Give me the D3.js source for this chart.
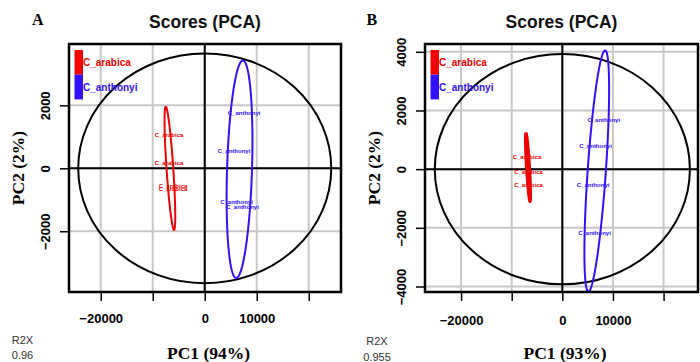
<!DOCTYPE html>
<html>
<head>
<meta charset="utf-8">
<script src="https://cdn.jsdelivr.net/npm/d3@7"></script>
<style>
  body { margin: 0; background: #fff; }
  svg { display: block; }
</style>
</head>
<body>
<div id="main"></div>
<script>
// --- data ---
var groups = ["C_arabica", "C_anthonyi"];
var groupColors = ["#f00000", "#3311ff"];

// score labels (PC1, PC2) per panel and group
var scoresA_arabica  = [[-6870, 1057], [-6870, 168], [-6100, -562], [-6100, -657]];
var scoresA_anthonyi = [[7560, 1746], [5630, 549], [6115, -1060], [7270, -1219]];
var scoresB_arabica  = [[-6980, 430], [-6680, -92], [-6680, -546]];
var scoresB_anthonyi = [[8180, 1683], [6560, 795], [6070, -536], [6360, -2184]];

// group ellipses: center, major semi-axis vector, horizontal half width
var ellA_arabica  = {cx: -6700, cy: 0,   ax: -800, ay: 1960, bx: 650};
var ellA_anthonyi = {cx: 6690,  cy: -30, ax: 645,  ay: 3457, bx: 2400};
var ellB_arabica  = {cx: -6780, cy: 60,  ax: -395, ay: 1167, bx: 300};
var ellB_anthonyi = {cx: 6800,  cy: -65, ax: 1650, ay: 4113, bx: 1800};

// Hotelling T2 ellipse radii
var hotA = {rx: 24330, ry: 3650};
var hotB = {rx: 25200, ry: 3925};

var xTicks = [-20000, -10000, 0, 10000, 20000];
var xTickLabels = [-20000, 0, 10000];
var yTicksA = [-2000, 0, 2000];
var yTicksB = [-4000, -2000, 0, 2000, 4000];

var pc1A = "PC1 (94%)", pc1B = "PC1 (93%)";
var pc2Label = "PC2 (2%)";
var r2xA = "0.96", r2xB = "0.955";

var W = 700, H = 362;
var sans = "'Liberation Sans', Arial, sans-serif";
var serif = "'Liberation Serif', 'Times New Roman', serif";

var svg = d3.select("#main").append("svg")
    .attr("width", W)
    .attr("height", H);

function ellipsePoints(e) {
    // parametric ellipse in data space
    return d3.range(0, 361, 3).map(function(deg) {
        var t = deg / 180 * Math.PI;
        return [e.cx + e.ax * Math.cos(t) + e.bx * Math.sin(t),
                e.cy + e.ay * Math.cos(t)];
    });
}

function panel(cfg) {
    var x = d3.scaleLinear().domain(cfg.xDomain).range([cfg.x0, cfg.x1]);
    var y = d3.scaleLinear().domain(cfg.yDomain).range([cfg.y1, cfg.y0]);
    var g = svg.append("g");

    var clipId = "clip" + cfg.id;
    svg.append("clipPath").attr("id", clipId)
        .append("rect")
        .attr("x", cfg.x0).attr("y", cfg.y0)
        .attr("width", cfg.x1 - cfg.x0).attr("height", cfg.y1 - cfg.y0);

    var plot = g.append("g").attr("clip-path", "url(#" + clipId + ")");

    // grid
    plot.selectAll(".vgrid").data(xTicks).enter().append("line")
        .attr("x1", function(d) { return x(d); }).attr("x2", function(d) { return x(d); })
        .attr("y1", cfg.y0).attr("y2", cfg.y1)
        .attr("stroke", "#c8c8c8").attr("stroke-width", 2);
    plot.selectAll(".hgrid").data(yTicksB).enter().append("line")
        .attr("y1", function(d) { return y(d); }).attr("y2", function(d) { return y(d); })
        .attr("x1", cfg.x0).attr("x2", cfg.x1)
        .attr("stroke", "#c8c8c8").attr("stroke-width", 2);

    // zero lines
    plot.append("line")
        .attr("x1", x(0)).attr("x2", x(0)).attr("y1", cfg.y0).attr("y2", cfg.y1)
        .attr("stroke", "#000").attr("stroke-width", 2);
    plot.append("line")
        .attr("y1", y(0)).attr("y2", y(0)).attr("x1", cfg.x0).attr("x2", cfg.x1)
        .attr("stroke", "#000").attr("stroke-width", 2);

    // Hotelling ellipse
    plot.append("ellipse")
        .attr("cx", x(0)).attr("cy", y(0))
        .attr("rx", x(cfg.hot.rx) - x(0)).attr("ry", y(0) - y(cfg.hot.ry))
        .attr("fill", "none").attr("stroke", "#000").attr("stroke-width", 2);

    var line = d3.line()
        .x(function(d) { return x(d[0]); })
        .y(function(d) { return y(d[1]); });

    cfg.ells.forEach(function(e, i) {
        plot.append("path")
            .attr("d", line(ellipsePoints(e)))
            .attr("fill", "none")
            .attr("stroke", groupColors[i])
            .attr("stroke-width", cfg.ellWidth[i]);
    });

    cfg.scores.forEach(function(pts, i) {
        plot.selectAll(".lab" + i).data(pts).enter().append("text")
            .attr("x", function(d) { return x(d[0]); })
            .attr("y", function(d) { return y(d[1]); })
            .attr("dy", "0.35em")
            .attr("text-anchor", "middle")
            .attr("font-family", sans).attr("font-weight", "bold")
            .attr("font-size", 6)
            .attr("fill", groupColors[i])
            .text(groups[i]);
    });

    // box
    g.append("rect")
        .attr("x", cfg.x0).attr("y", cfg.y0)
        .attr("width", cfg.x1 - cfg.x0).attr("height", cfg.y1 - cfg.y0)
        .attr("fill", "none").attr("stroke", "#000").attr("stroke-width", 2.5);

    // x axis
    var xa = g.append("g")
        .attr("transform", "translate(0," + cfg.y1 + ")")
        .call(d3.axisBottom(x).tickValues(xTicks).tickSize(9).tickPadding(cfg.xPad)
            .tickFormat(function(d) { return xTickLabels.indexOf(d) >= 0 ? d3.format("")(d).replace("-", "\u2212") : ""; }));
    xa.select(".domain").remove();
    xa.selectAll("line").attr("stroke", "#000").attr("stroke-width", 1.5);
    xa.selectAll("text").attr("font-family", sans).attr("font-weight", "bold")
        .attr("font-size", 13).attr("fill", "#000");

    // y axis
    var ya = g.append("g")
        .attr("transform", "translate(" + cfg.x0 + ",0)")
        .call(d3.axisLeft(y).tickValues(cfg.yTicks).tickSize(9)
            .tickFormat(function(d) { return d3.format("")(d).replace("-", "\u2212"); }));
    ya.select(".domain").remove();
    ya.selectAll("line").attr("stroke", "#000").attr("stroke-width", 1.5);
    ya.selectAll("text")
        .attr("transform", "rotate(-90)")
        .attr("x", 0).attr("y", -19.5).attr("dy", 0)
        .attr("text-anchor", "middle")
        .attr("font-family", sans).attr("font-weight", "bold")
        .attr("font-size", 13).attr("fill", "#000");

    // legend
    var lx = cfg.x0 + 5.5, ly = 50, lw = 8.5, lh = 24.7;
    groups.forEach(function(name, i) {
        g.append("rect")
            .attr("x", lx).attr("y", ly + i * lh)
            .attr("width", lw).attr("height", lh)
            .attr("fill", groupColors[i]);
        g.append("text")
            .attr("x", lx + lw).attr("y", ly + i * lh + lh / 2)
            .attr("dy", "0.35em")
            .attr("font-family", sans).attr("font-weight", "bold")
            .attr("font-size", 10).attr("fill", groupColors[i])
            .text(name);
    });

    var cx = (cfg.x0 + cfg.x1) / 2;
    // title
    g.append("text")
        .attr("x", cx).attr("y", 28)
        .attr("text-anchor", "middle")
        .attr("font-family", sans).attr("font-weight", "bold")
        .attr("font-size", 17.5).attr("fill", "#111")
        .text("Scores (PCA)");

    // panel letter
    g.append("text")
        .attr("x", cfg.letterX).attr("y", 25)
        .attr("font-family", serif).attr("font-weight", "bold")
        .attr("font-size", 16).attr("fill", "#000")
        .text(cfg.id);

    // axis titles
    g.append("text")
        .attr("transform", "translate(" + (cfg.x0 - 45) + "," + ((cfg.y0 + cfg.y1) / 2) + ") rotate(-90)")
        .attr("text-anchor", "middle")
        .attr("font-family", serif).attr("font-weight", "bold")
        .attr("font-size", 17.5).attr("fill", "#000")
        .text(pc2Label);
    g.append("text")
        .attr("x", cx + 3.5).attr("y", 358.5)
        .attr("text-anchor", "middle")
        .attr("font-family", serif).attr("font-weight", "bold")
        .attr("font-size", 17.5).attr("fill", "#000")
        .text(cfg.pc1);

    // R2X
    g.append("text")
        .attr("x", cfg.r2x).attr("y", cfg.r2y)
        .attr("text-anchor", "middle")
        .attr("font-family", sans).attr("font-size", 11).attr("fill", "#333")
        .text("R2X");
    g.append("text")
        .attr("x", cfg.r2x).attr("y", cfg.r2y + 15.5)
        .attr("text-anchor", "middle")
        .attr("font-family", sans).attr("font-size", 11).attr("fill", "#333")
        .text(cfg.r2v);
}

panel({
    id: "A", x0: 69, x1: 341, y0: 44, y1: 292,
    xDomain: [-26100, 26200], yDomain: [-3930, 3950],
    hot: hotA, ells: [ellA_arabica, ellA_anthonyi], ellWidth: [2, 2],
    scores: [scoresA_arabica, scoresA_anthonyi],
    yTicks: yTicksA, xPad: 13, letterX: 32, pc1: pc1A,
    r2x: 22.5, r2y: 343.5, r2v: r2xA
});

panel({
    id: "B", x0: 425, x1: 698, y0: 44, y1: 292,
    xDomain: [-27130, 26800], yDomain: [-4188, 4266],
    hot: hotB, ells: [ellB_arabica, ellB_anthonyi], ellWidth: [3, 2],
    scores: [scoresB_arabica, scoresB_anthonyi],
    yTicks: yTicksB, xPad: 15, letterX: 366.5, pc1: pc1B,
    r2x: 377, r2y: 345, r2v: r2xB
});
</script>
</body>
</html>
